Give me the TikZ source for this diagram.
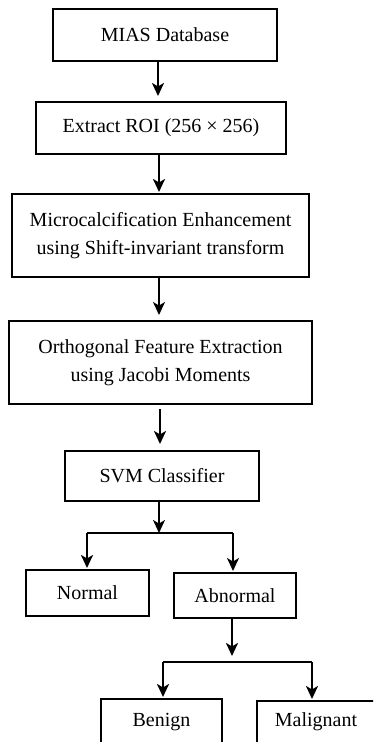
\documentclass[tikz,border=0pt]{standalone}
\usepackage{fontspec}
\setmainfont{Liberation Serif}
\usetikzlibrary{arrows.meta}
\begin{document}
\begin{tikzpicture}[x=1pt,y=-1pt,
  box/.style={draw, line width=2pt, inner sep=0pt, align=center,
    font=\fontsize{20}{28}\selectfont},
  arr/.style={line width=2.8pt, -{Stealth[length=13pt,width=12pt,inset=3.5pt]}},
  tarr/.style={line width=1.8pt, -{Stealth[length=13pt,width=12pt,inset=3.5pt]}},
  hline/.style={line width=1.6pt}]
\useasboundingbox (0,0) rectangle (373,742);
\clip (0,0) rectangle (373,742);
\node[box, minimum width=224pt, minimum height=52pt] (mias) at (165,35) {MIAS Database};
\node[box, minimum width=250pt, minimum height=52pt] (roi) at (161,128) {Extract ROI (256 × 256)};
\node[box, minimum width=297pt, minimum height=83pt] (mce) at (160.5,235.5) {Microcalcification Enhancement\\using Shift-invariant transform};
\node[box, minimum width=303pt, minimum height=83pt] (ofe) at (160.5,362.5) {Orthogonal Feature Extraction\\using Jacobi Moments};
\node[box, minimum width=194pt, minimum height=50pt] (svm) at (162,476) {SVM Classifier};
\node[box, minimum width=123pt, minimum height=46pt] (nor) at (87.5,593) {Normal};
\node[box, minimum width=122pt, minimum height=45pt] (abn) at (235,595.5) {Abnormal};
\node[box, minimum width=121pt, minimum height=60pt, anchor=north] (ben) at (161.5,698) {};
\node[font=\fontsize{20}{28}\selectfont] (bent) at (161.5,722) {Benign};
\node[box, minimum width=140pt, minimum height=60pt, anchor=north west] (mal) at (256,700) {};
\node[font=\fontsize{20}{28}\selectfont] (malt) at (316,722) {Malignant};
\coordinate (j1) at (159,533);
\coordinate (j1l) at (87,533);
\coordinate (j1r) at (233,533);
\coordinate (j2) at (232,662);
\coordinate (j2l) at (163,662);
\coordinate (j2r) at (312,662);
\draw[arr, shorten >=5pt] ([xshift=-7pt]mias.south) -- ([xshift=-3pt]roi.north);
\draw[arr, shorten >=1pt] ([xshift=-2pt]roi.south) -- ([xshift=-1.5pt]mce.north);
\draw[tarr, shorten >=5pt] ([xshift=-1.5pt]mce.south) -- ([xshift=-1.5pt]ofe.north);
\draw[arr, shorten <=4pt, shorten >=6pt] ([xshift=-0.5pt]ofe.south) -- ([xshift=-2pt]svm.north);
\draw[tarr] ([xshift=-3pt]svm.south) -- (j1);
\draw[hline] (j1l) -- (j1r);
\draw[arr, shorten >=1pt] (j1l) -- (nor.north -| j1l);
\draw[tarr, shorten >=1pt] (j1r) -- (abn.north -| j1r);
\draw[arr, shorten >=6pt] ([xshift=-3pt]abn.south) -- (j2);
\draw[hline] (j2l) -- (j2r);
\draw[arr, shorten >=1pt] (j2l) -- (ben.north -| j2l);
\draw[arr, shorten >=1pt] (j2r) -- (mal.north -| j2r);
\end{tikzpicture}
\end{document}
